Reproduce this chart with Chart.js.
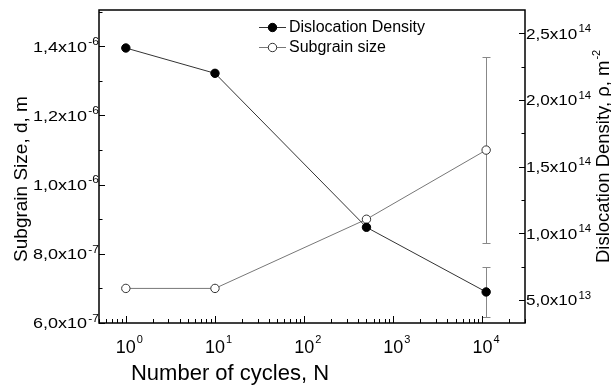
<!DOCTYPE html>
<html>
<head>
<meta charset="utf-8">
<script src="https://cdn.jsdelivr.net/npm/chart.js@4.4.0/dist/chart.umd.min.js"></script>
<style>
  html, body { margin: 0; padding: 0; background: #fff; }
  #wrap { position: relative; width: 611px; height: 385px; }
</style>
</head>
<body>
<div id="wrap"><canvas id="chart"></canvas></div>
<script>
// measured values
const cycles = [1, 10, 500, 11000];
const dislocationDensity = [2.39e14, 2.2e14, 1.045e14, 5.6e13];
const densityError = [null, null, null, 1.9e13];
const subgrainSize = [7.0e-7, 7.0e-7, 9.0e-7, 1.1e-6];
const subgrainError = [null, null, null, 2.7e-7];

// axis ticks and their labels (mantissa, exponent)
const xTicks = [1, 10, 100, 1000, 10000];
const xTickExp = ["0", "1", "2", "3", "4"];
const leftTicks = [6e-7, 8e-7, 1.0e-6, 1.2e-6, 1.4e-6];
const leftTickLabels = [["6,0x10", "-7"], ["8,0x10", "-7"], ["1,0x10", "-6"], ["1,2x10", "-6"], ["1,4x10", "-6"]];
const rightTicks = [5e13, 1e14, 1.5e14, 2e14, 2.5e14];
const rightTickLabels = [["5,0x10", "13"], ["1,0x10", "14"], ["1,5x10", "14"], ["2,0x10", "14"], ["2,5x10", "14"]];

const FONT = '"Liberation Sans", Arial, sans-serif';

function drawSci(ctx, base, exp, x, y, size, supSize, rise, align, stretch) {
  ctx.save();
  ctx.font = size + "px " + FONT;
  const wb = ctx.measureText(base).width;
  ctx.font = supSize + "px " + FONT;
  const we = ctx.measureText(exp).width;
  const total = wb + 1 + we;
  let start = 0;
  if (align === "right") start = -total;
  else if (align === "base") start = -wb / 2;
  ctx.translate(x, y);
  ctx.scale(stretch, 1);
  ctx.fillStyle = "#000";
  ctx.textAlign = "left";
  ctx.textBaseline = "alphabetic";
  ctx.font = size + "px " + FONT;
  ctx.fillText(base, start, 0);
  ctx.font = supSize + "px " + FONT;
  ctx.fillText(exp, start + wb + 1, -rise);
  ctx.restore();
}

function drawMarker(ctx, x, y, filled) {
  ctx.beginPath();
  ctx.arc(x, y, 4.2, 0, Math.PI * 2);
  ctx.fillStyle = filled ? "#000" : "#fff";
  ctx.fill();
  ctx.lineWidth = 1;
  ctx.strokeStyle = filled ? "#000" : "#333";
  ctx.stroke();
}

const axisDecor = {
  id: "axisDecor",
  beforeDatasetsDraw(chart) {
    const ctx = chart.ctx;
    const xs = chart.scales.x;
    ctx.save();
    ctx.strokeStyle = "#888";
    ctx.lineWidth = 1;
    const bars = [
      [dislocationDensity, densityError, chart.scales.y1],
      [subgrainSize, subgrainError, chart.scales.y]
    ];
    bars.forEach(([vals, errs, ys]) => {
      vals.forEach((v, i) => {
        if (errs[i] == null) return;
        const px = Math.round(xs.getPixelForValue(cycles[i])) + 0.5;
        const top = Math.round(ys.getPixelForValue(v + errs[i])) + 0.5;
        const bot = Math.round(ys.getPixelForValue(v - errs[i])) + 0.5;
        ctx.beginPath();
        ctx.moveTo(px, top); ctx.lineTo(px, bot);
        ctx.moveTo(px - 4, top); ctx.lineTo(px + 4, top);
        ctx.moveTo(px - 4, bot); ctx.lineTo(px + 4, bot);
        ctx.stroke();
      });
    });
    ctx.restore();
  },
  afterDraw(chart) {
    const ctx = chart.ctx;
    const a = chart.chartArea;
    const xs = chart.scales.x, yl = chart.scales.y, yr = chart.scales.y1;
    ctx.save();

    // frame
    ctx.strokeStyle = "#000";
    ctx.lineWidth = 1.5;
    ctx.strokeRect(a.left, a.top, a.right - a.left, a.bottom - a.top);

    // inward ticks
    ctx.lineWidth = 1;
    ctx.beginPath();
    for (let d = -1; d <= 4; d++) {
      for (let k = 1; k <= 9; k++) {
        const v = k * Math.pow(10, d);
        if (v < xs.min || v > xs.max) continue;
        const px = Math.round(xs.getPixelForValue(v)) + 0.5;
        const len = k === 1 ? 7 : 4;
        ctx.moveTo(px, a.bottom); ctx.lineTo(px, a.bottom - len);
      }
    }
    for (let v = 6e-7; v <= yl.max + 1e-12; v += 1e-7) {
      const py = Math.round(yl.getPixelForValue(v)) + 0.5;
      const major = Math.round(v * 1e7) % 2 === 0;
      ctx.moveTo(a.left, py); ctx.lineTo(a.left + (major ? 6 : 3.5), py);
    }
    for (let v = 5e13; v <= yr.max; v += 2.5e13) {
      const py = Math.round(yr.getPixelForValue(v)) + 0.5;
      const major = Math.round(v / 2.5e13) % 2 === 0;
      ctx.moveTo(a.right, py); ctx.lineTo(a.right - (major ? 6 : 3.5), py);
    }
    ctx.stroke();

    // tick labels
    xTicks.forEach((v, i) => {
      drawSci(ctx, "10", xTickExp[i], xs.getPixelForValue(v), 353, 18, 11, 10, "base", 1);
    });
    leftTicks.forEach((v, i) => {
      drawSci(ctx, leftTickLabels[i][0], leftTickLabels[i][1], a.left, yl.getPixelForValue(v) + 5.3, 15, 10, 6.5, "right", 1.2);
    });
    rightTicks.forEach((v, i) => {
      drawSci(ctx, rightTickLabels[i][0], rightTickLabels[i][1], a.right + 1, yr.getPixelForValue(v) + 5.3, 15, 10, 6.5, "left", 1.14);
    });

    // axis titles
    ctx.fillStyle = "#000";
    ctx.font = "22px " + FONT;
    ctx.textAlign = "center";
    ctx.textBaseline = "alphabetic";
    ctx.fillText("Number of cycles, N", 230, 380);

    ctx.save();
    ctx.translate(27, 179);
    ctx.rotate(-Math.PI / 2);
    ctx.font = "19px " + FONT;
    ctx.fillText("Subgrain Size, d, m", 0, 0);
    ctx.restore();

    ctx.save();
    ctx.translate(609, 263);
    ctx.rotate(-Math.PI / 2);
    ctx.textAlign = "left";
    ctx.font = "18.5px " + FONT;
    const main = "Dislocation Density, \u03c1, m";
    ctx.fillText(main, 0, 0);
    const w = ctx.measureText(main).width;
    ctx.font = "11px " + FONT;
    ctx.fillText("-2", w + 1, -9);
    ctx.restore();

    // legend
    const rows = [
      { y: 27, label: "Dislocation Density", filled: true, color: "#333" },
      { y: 47, label: "Subgrain size", filled: false, color: "#777" }
    ];
    rows.forEach(r => {
      ctx.strokeStyle = r.color;
      ctx.lineWidth = 1;
      ctx.beginPath();
      ctx.moveTo(259, r.y + 0.5); ctx.lineTo(286, r.y + 0.5);
      ctx.stroke();
      drawMarker(ctx, 272.5, r.y + 0.5, r.filled);
      ctx.fillStyle = "#000";
      ctx.font = "16px " + FONT;
      ctx.textAlign = "left";
      ctx.textBaseline = "middle";
      ctx.fillText(r.label, 289, r.y + 1);
    });

    ctx.restore();
  }
};

const densityPoints = cycles.map((c, i) => ({ x: c, y: dislocationDensity[i] }));
const subgrainPoints = cycles.map((c, i) => ({ x: c, y: subgrainSize[i] }));

new Chart(document.getElementById("chart"), {
  type: "line",
  data: {
    datasets: [
      {
        label: "Dislocation Density",
        data: densityPoints,
        yAxisID: "y1",
        borderColor: "#333",
        borderWidth: 1,
        pointRadius: 4.2,
        pointBackgroundColor: "#000",
        pointBorderColor: "#000",
        pointBorderWidth: 1,
        tension: 0
      },
      {
        label: "Subgrain size",
        data: subgrainPoints,
        yAxisID: "y",
        borderColor: "#777",
        borderWidth: 1,
        pointRadius: 4.2,
        pointBackgroundColor: "#fff",
        pointBorderColor: "#333",
        pointBorderWidth: 1,
        tension: 0
      }
    ]
  },
  options: {
    responsive: true,
    maintainAspectRatio: false,
    animation: false,
    layout: { padding: { top: 10, left: 0, right: 0, bottom: 0 } },
    plugins: { legend: { display: false }, tooltip: { enabled: false } },
    scales: {
      x: {
        type: "logarithmic",
        position: "bottom",
        min: 0.5,
        max: 30000,
        ticks: { display: false },
        grid: { display: false },
        border: { display: false },
        afterFit: s => { s.height = 62; }
      },
      y: {
        type: "linear",
        position: "left",
        min: 6e-7,
        max: 1.505e-6,
        ticks: { display: false },
        grid: { display: false },
        border: { display: false },
        afterFit: s => { s.width = 99; }
      },
      y1: {
        type: "linear",
        position: "right",
        min: 3.27e13,
        max: 2.675e14,
        ticks: { display: false },
        grid: { display: false },
        border: { display: false },
        afterFit: s => { s.width = 86; }
      }
    }
  },
  plugins: [axisDecor]
});
</script>
</body>
</html>
